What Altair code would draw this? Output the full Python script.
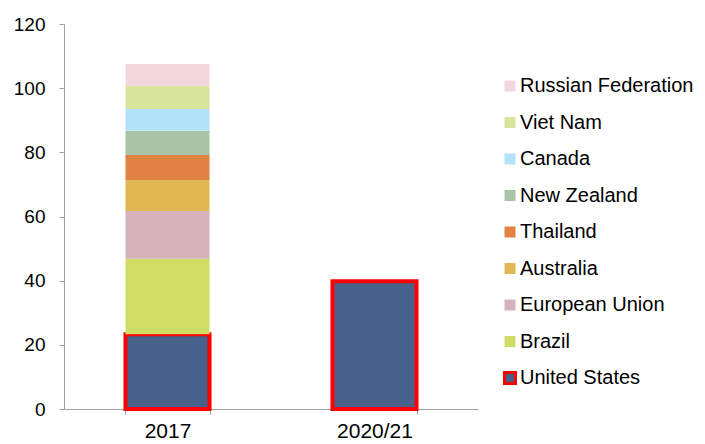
import altair as alt
import pandas as pd

countries = ["United States", "Brazil", "European Union", "Australia", "Thailand",
             "New Zealand", "Canada", "Viet Nam", "Russian Federation"]
colors = ["#47618A", "#CFDD64", "#D5B3BB", "#E1B851", "#E28345",
          "#A9C4A6", "#B3E3F8", "#D9E59C", "#F2D7DE"]
periods = ["2017", "2020/21"]
values_2017 = [23.3, 23.5, 14.9, 9.7, 7.8, 7.5, 6.8, 7.2, 6.8]
values_2021 = [39.8, None, None, None, None, None, None, None, None]

rows = []
for i, c in enumerate(countries):
    rows.append({"period": "2017", "country": c, "value": values_2017[i], "rank": i})
    if values_2021[i] is not None:
        rows.append({"period": "2020/21", "country": c, "value": values_2021[i], "rank": i})
df = pd.DataFrame(rows)

legend_order = countries[::-1]
color_range = colors[::-1]
stroke_range = ["#FF0000" if c == "United States" else "transparent" for c in legend_order]

font = "Liberation Sans"

def make_legend():
    return alt.Legend(title=None, orient="none", legendX=436, legendY=52,
                      symbolType="square", symbolSize=121,
                      symbolStrokeWidth=3, labelFontSize=20,
                      labelFont=font, labelColor="#000000",
                      rowPadding=12.5, labelOffset=0, labelLimit=400,
                      padding=0)

chart = alt.Chart(df).mark_bar(strokeWidth=4).encode(
    x=alt.X("period:N", sort=periods, title=None,
            scale=alt.Scale(paddingInner=0.594, paddingOuter=0.297),
            axis=alt.Axis(labelAngle=0, domainColor="#A0A0A0", tickColor="#A0A0A0",
                          tickSize=5, tickBand="extent", labelFontSize=21,
                          labelPadding=6, labelFont=font, labelColor="#000000")),
    y=alt.Y("value:Q", stack="zero", title=None,
            scale=alt.Scale(domain=[0, 120], nice=False),
            axis=alt.Axis(values=[0, 20, 40, 60, 80, 100, 120], grid=False,
                          domainColor="#A0A0A0", tickColor="#A0A0A0", tickSize=5,
                          labelFontSize=19, labelPadding=14, labelFont=font,
                          labelColor="#000000")),
    color=alt.Color("country:N", scale=alt.Scale(domain=legend_order, range=color_range),
                    legend=make_legend()),
    stroke=alt.Stroke("country:N", scale=alt.Scale(domain=legend_order, range=stroke_range),
                      legend=make_legend()),
    order=alt.Order("rank:Q", sort="ascending"),
).properties(
    width=414, height=385,
    background="#FFFFFF",
    autosize=alt.AutoSizeParams(type="none"),
    padding={"left": 56, "top": 16, "right": 219, "bottom": 34},
).configure_view(stroke=None)

chart.save("out.html", embed_options={"renderer": "svg", "actions": False})
